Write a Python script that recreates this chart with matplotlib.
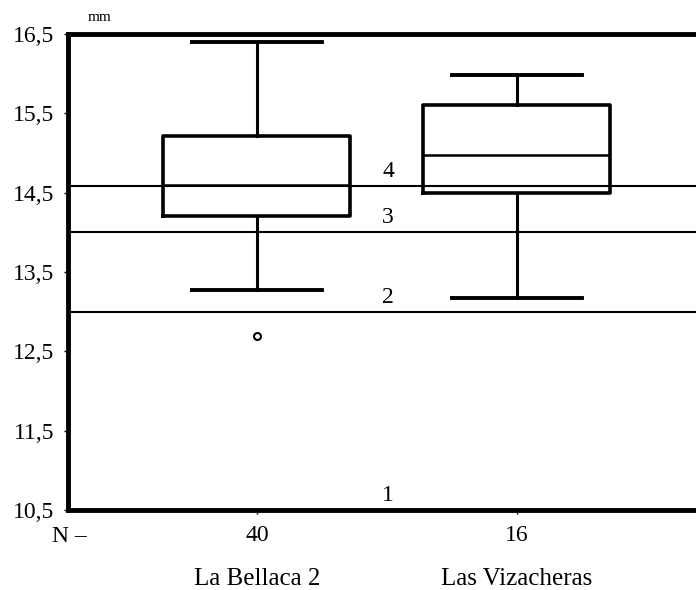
import matplotlib.pyplot as plt
from matplotlib.ticker import FuncFormatter

plt.rcParams['font.family'] = ['Liberation Serif', 'DejaVu Serif']

# Valores (mm)
sitios = ['La Bellaca 2', 'Las Vizacheras']
n_casos = ['40', '16']
bigote_inf = [13.27, 13.17]
q1 = [14.2, 14.5]
mediana = [14.6, 14.98]
q3 = [15.21, 15.6]
bigote_sup = [16.4, 15.98]
atipicos = [[12.69], []]

lineas_ref = [10.5, 13.0, 14.0, 14.58]
etiquetas_ref = ['1', '2', '3', '4']
y_ticks = [10.5, 11.5, 12.5, 13.5, 14.5, 15.5, 16.5]

stats = []
for i in range(len(sitios)):
    stats.append({'whislo': bigote_inf[i], 'q1': q1[i], 'med': mediana[i],
                  'q3': q3[i], 'whishi': bigote_sup[i], 'fliers': atipicos[i]})

fig = plt.figure(figsize=(6.96, 5.90), dpi=100)
ax = fig.add_axes([0.0977, 0.1356, 0.9023, 0.8068])

# Líneas horizontales de referencia
for y in lineas_ref[1:]:
    ax.axhline(y, color='black', lw=1.5, zorder=1)

ax.bxp(stats, positions=[1, 2], widths=0.72, capwidths=0.5,
       boxprops=dict(color='black', lw=2.6),
       medianprops=dict(color='black', lw=1.8),
       whiskerprops=dict(color='black', lw=2.2),
       capprops=dict(color='black', lw=2.8),
       flierprops=dict(marker='o', markersize=5, markerfacecolor='white',
                       markeredgecolor='black', markeredgewidth=1.5),
       zorder=2)

for y, t in zip(lineas_ref, etiquetas_ref):
    ax.text(1.505, y + 0.05, t, fontsize=17, ha='center', va='bottom')

ax.set_xlim(0.273, 2.69)
ax.set_ylim(10.5, 16.5)

ax.set_yticks(y_ticks)
ax.yaxis.set_major_formatter(FuncFormatter(lambda v, p: ('%.1f' % v).replace('.', ',')))
ax.set_xticks([1, 2])
ax.set_xticklabels(n_casos)
ax.tick_params(axis='both', labelsize=17, direction='out', length=3, width=1)
ax.tick_params(axis='y', pad=7)
ax.tick_params(axis='x', pad=8)

for s in ['left', 'bottom', 'top']:
    ax.spines[s].set_linewidth(3.5)
ax.spines['right'].set_visible(False)

fig.text(0.1437, 0.97, 'mm', fontsize=11, ha='center', va='center')
fig.text(0.1, 0.09, 'N \u2013', fontsize=17, ha='center', va='center')
for i, nom in enumerate(sitios):
    ax.text(i + 1, 10.5 - 0.87, nom, fontsize=18, ha='center', va='center')

fig.savefig('out.png', dpi=100)
